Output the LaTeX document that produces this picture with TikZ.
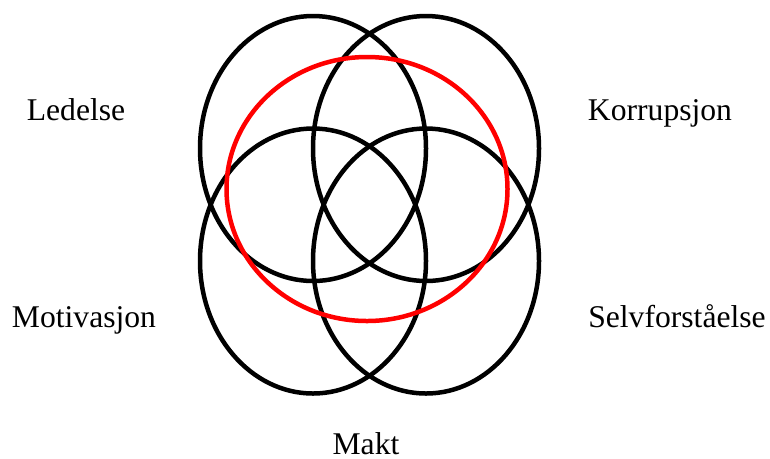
\documentclass[tikz,border=0pt]{standalone}
\usepackage{fontspec}
\setmainfont{Liberation Serif}
\usetikzlibrary{positioning}
\definecolor{cred}{HTML}{FF0000}
\tikzset{
  every picture/.style={line width=0.09cm},
  ring/.style={draw=#1, line width=0.09cm},
  ring/.default=black,
  topic/.style={font=\fontsize{18}{22}\selectfont, anchor=base, inner sep=0pt},
}
\begin{document}
\begin{tikzpicture}[x=0.02cm, y=-0.02cm]
  \useasboundingbox (0,0) rectangle (770,458);
  % four overlapping rings
  \foreach \cx/\cy in {313/148.5, 426/148.5, 313/261, 426/261}
    \draw[ring] (\cx,\cy) ellipse [x radius=113, y radius=132.5];
  % centre ring
  \draw[ring=cred] (367,189) ellipse [x radius=140.5, y radius=132];
  \node[topic] (ledelse) at (76,120) {Ledelse};
  \node[topic] (korrupsjon) at (660,120) {Korrupsjon};
  \node[topic] (motivasjon) at (84,327) {Motivasjon};
  \node[topic] (selv) at (677,327) {Selvforståelse};
  \node[topic] (makt) at (366,454) {Makt};
\end{tikzpicture}
\end{document}
